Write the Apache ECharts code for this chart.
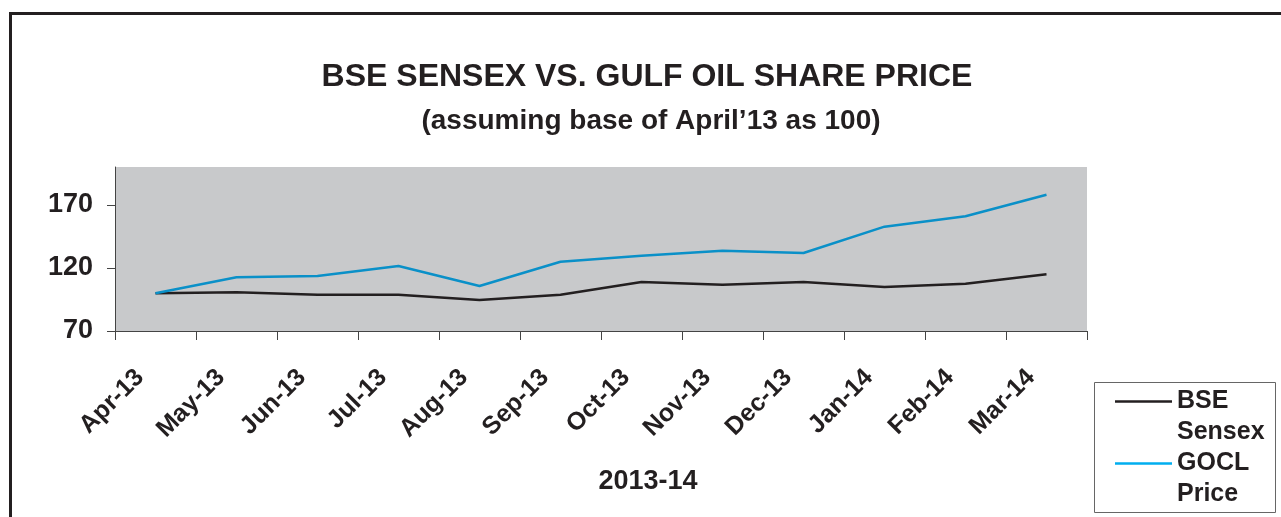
<!DOCTYPE html>
<html>
<head>
<meta charset="utf-8">
<script src="https://cdn.jsdelivr.net/npm/echarts@6/dist/echarts.min.js"></script>
<style>
  html, body { margin: 0; padding: 0; background: #fff; }
  #main { width: 1281px; height: 517px; }
</style>
</head>
<body>
<div id="main"></div>
<script>
// values (base April'13 = 100)
const months = ['Apr-13', 'May-13', 'Jun-13', 'Jul-13', 'Aug-13', 'Sep-13',
                'Oct-13', 'Nov-13', 'Dec-13', 'Jan-14', 'Feb-14', 'Mar-14'];
const bseSensex = [100, 100.7, 98.8, 98.8, 94.6, 98.8, 108.8, 106.7, 108.8, 104.9, 107.5, 114.9];
const goclPrice = [100, 112.6, 113.6, 121.5, 105.7, 124.9, 129.7, 133.7, 131.8, 152.7, 160.9, 178];
const yTicks = [70, 120, 170];

const font = '"Liberation Sans", Arial, sans-serif';
const chart = echarts.init(document.getElementById('main'));

chart.setOption({
  animation: false,
  textStyle: { fontFamily: font },
  title: [
    {
      text: 'BSE SENSEX VS. GULF OIL SHARE PRICE',
      left: 647, top: 61, textAlign: 'center', padding: 0,
      textStyle: { fontFamily: font, fontSize: 32, fontWeight: 'bold', color: '#231f20', lineHeight: 32 }
    },
    {
      text: '(assuming base of April\u201913 as 100)',
      left: 651, top: 107, textAlign: 'center', padding: 0,
      textStyle: { fontFamily: font, fontSize: 28, fontWeight: 'bold', color: '#231f20', lineHeight: 28 }
    }
  ],
  grid: {
    left: 115, right: 194, top: 167, bottom: 186,
    show: true, backgroundColor: '#c8c9cb', borderWidth: 0
  },
  legend: {
    orient: 'vertical',
    left: 1115, top: 355,
    padding: 0,
    itemGap: -31,
    icon: 'rect',
    itemWidth: 57, itemHeight: 2.5,
    itemTextGap: 5,
    textStyle: { fontFamily: font, fontSize: 25, fontWeight: 'bold', color: '#231f20', lineHeight: 31 },
    formatter: (name) => '\n' + name.replace(' ', '\n'),
    data: [
      { name: 'BSE Sensex', itemStyle: { color: '#231f20' } },
      { name: 'GOCL Price', itemStyle: { color: '#00aeef' } }
    ]
  },
  xAxis: {
    type: 'category',
    data: months,
    boundaryGap: true,
    name: '2013-14',
    nameLocation: 'middle',
    nameGap: 137,
    nameTextStyle: { fontFamily: font, fontSize: 27, fontWeight: 'bold', color: '#231f20', padding: [0, 0, 0, 94] },
    axisLine: { show: true, lineStyle: { color: '#444', width: 1 } },
    axisTick: { show: true, alignWithLabel: false, length: 9, lineStyle: { color: '#444', width: 1 } },
    axisLabel: {
      rotate: 45, margin: 27, interval: 0,
      padding: [0, 22, 0, 0],
      fontFamily: font, fontSize: 25, fontWeight: 'bold', color: '#231f20'
    },
    splitLine: { show: false }
  },
  yAxis: {
    type: 'value',
    min: 70, max: 200, interval: 50,
    axisLine: { show: true, lineStyle: { color: '#444', width: 1 } },
    axisTick: { show: true, length: 8, lineStyle: { color: '#444', width: 1 }, customValues: yTicks },
    axisLabel: {
      margin: 22, customValues: yTicks,
      fontFamily: font, fontSize: 27, fontWeight: 'bold', color: '#231f20'
    },
    splitLine: { show: false }
  },
  series: [
    {
      name: 'BSE Sensex', type: 'line', data: bseSensex,
      symbol: 'none', color: '#231f20',
      lineStyle: { width: 2.5, color: '#231f20' }
    },
    {
      name: 'GOCL Price', type: 'line', data: goclPrice,
      symbol: 'none', color: '#0a90c8',
      lineStyle: { width: 2.5, color: '#0a90c8' }
    }
  ],
  graphic: [
    // outer frame of the figure (runs off the right and bottom edge)
    {
      type: 'rect', silent: true,
      shape: { x: 10.5, y: 13.5, width: 1400, height: 600 },
      style: { fill: null, stroke: '#231f20', lineWidth: 3 }
    },
    // legend box
    {
      type: 'rect', silent: true,
      shape: { x: 1094.5, y: 382.5, width: 181, height: 130 },
      style: { fill: null, stroke: '#666', lineWidth: 1 }
    }
  ]
});
</script>
</body>
</html>
